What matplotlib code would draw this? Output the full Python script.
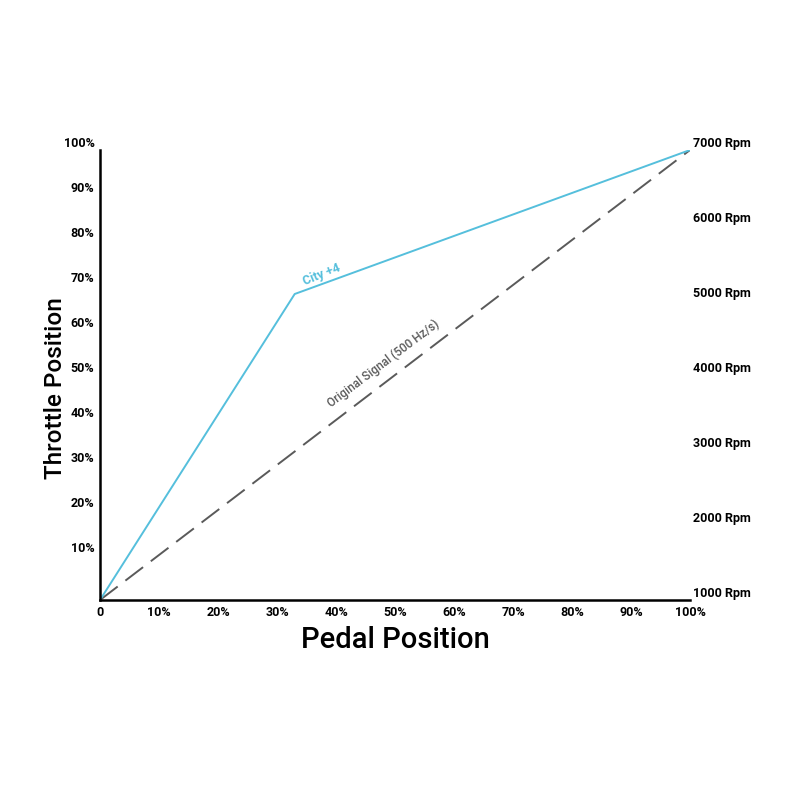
import matplotlib
matplotlib.use("Agg")
import matplotlib.pyplot as plt

# pedal -> throttle maps (percent)
pedal = [0, 33, 100]
city = [0, 68, 100]
original_x = [0, 100]
original_y = [0, 100]

pct_ticks = [0, 10, 20, 30, 40, 50, 60, 70, 80, 90, 100]
x_labels = ["0", "10%", "20%", "30%", "40%", "50%", "60%", "70%", "80%", "90%", "100%"]
y_ticks = [10, 20, 30, 40, 50, 60, 70, 80, 90, 100]
y_labels = ["10%", "20%", "30%", "40%", "50%", "60%", "70%", "80%", "90%", "100%"]
rpm = [1000, 2000, 3000, 4000, 5000, 6000, 7000]
rpm_labels = [f"{r} Rpm" for r in rpm]

plt.rcParams['font.family'] = ['Roboto', 'DejaVu Sans']
plt.rcParams['lines.scale_dashes'] = False

fig = plt.figure(figsize=(8, 8), dpi=100)
ax = fig.add_axes([0.125, 0.25, 0.7375, 0.5625])

ax.plot(original_x, original_y, color="#5a5a5a", lw=1.4, dashes=(16, 7))
ax.plot(pedal, city, color="#55bfdc", lw=1.4)

ax.set_xlim(0, 100)
ax.set_ylim(0, 100)
ax.set_xticks(pct_ticks, x_labels, fontsize=9, fontweight="bold")
ax.set_yticks(y_ticks, y_labels, fontsize=9, fontweight="bold")
ax.tick_params(length=0, pad=4)
for s in ["top", "right"]:
    ax.spines[s].set_visible(False)
for s in ["left", "bottom"]:
    ax.spines[s].set_linewidth(1.8)
ax.set_xlabel("Pedal Position", fontsize=21, fontweight="medium", labelpad=5)
ax.set_ylabel("Throttle Position", fontsize=17.5, fontweight="medium")
ax.yaxis.set_label_coords(-0.056, 0.47)

ax2 = ax.twinx()
ax2.set_ylim(1000, 7000)
ax2.set_yticks(rpm, rpm_labels, fontsize=9, fontweight="bold")
ax2.tick_params(length=0, pad=2)
for lbl in ax2.get_yticklabels():
    lbl.set_va("bottom")
for lbl in ax.get_yticklabels():
    lbl.set_va("bottom")
for s in ax2.spines.values():
    s.set_visible(False)

ax.text(37.5, 72.3, "City +4", color="#55bfdc", fontsize=9, fontweight="bold",
        rotation=22, ha="center", va="center")
ax.text(48, 52.5, "Original Signal (500 Hz/s)", color="#5a5a5a", fontsize=8.5,
        fontweight="medium", rotation=37, ha="center", va="center")

fig.savefig("out.png", dpi=100, facecolor="white")
